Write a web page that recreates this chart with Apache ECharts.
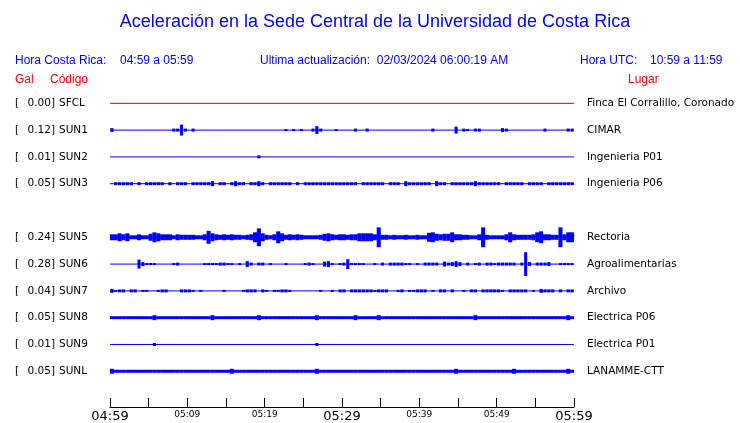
<!DOCTYPE html>
<html><head><meta charset="utf-8">
<script src="https://cdn.jsdelivr.net/npm/echarts/dist/echarts.min.js"></script>
<style>html,body{margin:0;padding:0;background:#fff}#c{width:740px;height:423px}</style>
</head><body><div id="c"></div><script>
// ---- data ----
const codes  = ['SFCL','SUN1','SUN2','SUN3','SUN5','SUN6','SUN7','SUN8','SUN9','SUNL'];
const gal    = ['0.00','0.12','0.01','0.05','0.24','0.28','0.04','0.05','0.01','0.05'];
const places = ['Finca El Corralillo, Coronado','CIMAR','Ingenieria P01','Ingenieria P06','Rectoria','Agroalimentarias','Archivo','Electrica P06','Electrica P01','LANAMME-CTT'];
const rows   = [0,1,2,3,5,6,7,8,9,10];          // row slot of each station (SUN4 absent)
const tickLabels = ['04:59','05:09','05:19','05:29','05:39','05:49','05:59']; // every 10 min
const bigLabels  = ['04:59','05:29','05:59'];
// peak-to-peak amplitude (relative units) every 0.5 minute, 04:59 -> 05:59
const ampSFCL = [0,0,0,0,0,0,0,0,0,0,0,0,0,0,0,0,0,0,0,0, 0,0,0,0,0,0,0,0,0,0,0,0,0,0,0,0,0,0,0,0, 0,0,0,0,0,0,0,0,0,0,0,0,0,0,0,0,0,0,0,0, 0,0,0,0,0,0,0,0,0,0,0,0,0,0,0,0,0,0,0,0, 0,0,0,0,0,0,0,0,0,0,0,0,0,0,0,0,0,0,0,0, 0,0,0,0,0,0,0,0,0,0,0,0,0,0,0,0,0,0,0,0];
const ampSUN1 = [4,0,0,0,0,0,0,0,0,0,0,0,0,0,0,0,3,3,11,3, 0,3,0,0,0,0,0,0,0,0,0,0,0,0,0,0,0,0,0,0, 0,0,0,0,0,2,0,2,0,2,0,0,3,8,3,0,0,0,2,0, 0,0,0,3,0,0,3,0,0,0,0,0,0,0,0,0,0,0,0,0, 0,0,0,3,0,0,0,0,0,7,0,3,2,0,3,3,0,0,0,0, 0,4,3,0,0,0,0,0,0,0,0,0,3,0,0,0,0,0,3,3];
const ampSUN2 = [0,0,0,0,0,0,0,0,0,0,0,0,0,0,0,0,0,0,0,0, 0,0,0,0,0,0,0,0,0,0,0,0,0,0,0,0,0,0,3,0, 0,0,0,0,0,0,0,0,0,0,0,0,0,0,0,0,0,0,0,0, 0,0,0,0,0,0,0,0,0,0,0,0,0,0,0,0,0,0,0,0, 0,0,0,0,0,0,0,0,0,0,0,0,0,0,0,0,0,0,0,0, 0,0,0,0,0,0,0,0,0,0,0,0,0,0,0,0,0,0,0,0];
const ampSUN3 = [0,3,3,3,3,3,0,3,0,3,3,3,3,3,0,3,0,3,3,3, 0,3,3,3,3,3,5,0,3,3,0,3,5,3,3,0,3,3,5,3, 0,3,3,3,3,3,3,0,3,0,3,3,3,3,3,3,3,3,3,3, 3,3,3,3,0,3,3,3,3,3,3,0,3,3,3,0,5,3,3,3, 3,3,3,0,5,3,3,0,3,3,3,3,3,3,5,3,3,3,3,3, 3,0,3,3,3,3,3,0,3,3,3,3,0,3,3,3,3,3,3,3];
const ampSUN5 = [6,6,8,6,8,4,4,6,4,4,7,10,8,6,6,6,4,6,5,5, 5,5,4,4,6,13,8,6,5,6,5,6,5,5,4,5,6,10,18,8, 5,4,6,12,8,5,6,5,6,5,4,4,4,4,5,7,8,6,5,6, 6,5,6,6,8,8,8,8,6,20,5,5,4,5,4,4,5,4,4,5, 4,4,9,10,7,6,7,7,10,6,6,5,5,4,4,6,20,5,4,4, 4,4,6,10,6,5,5,5,5,6,10,12,6,6,5,5,20,6,10,10];
const ampSUN6 = [0,0,0,0,0,0,0,9,4,2,2,2,0,0,0,0,2,3,0,0, 0,0,0,0,2,2,2,2,3,3,2,2,0,2,0,6,3,0,3,3, 0,2,0,0,0,2,0,0,0,0,2,3,2,0,0,5,6,2,0,2, 3,10,2,2,2,2,0,0,2,0,3,0,3,3,3,3,2,2,0,2, 0,3,3,3,3,0,5,3,4,6,4,0,3,0,2,3,0,3,3,2, 3,3,3,3,3,0,3,24,4,0,3,3,3,4,0,0,2,2,2,2];
const ampSUN7 = [4,2,3,3,0,3,3,0,2,2,0,0,2,3,3,0,0,0,3,3, 3,2,0,2,0,0,0,0,0,2,0,0,0,0,2,3,3,3,0,3, 2,0,2,2,3,3,2,0,0,0,0,0,0,0,2,0,0,2,0,3, 3,0,3,3,3,3,3,3,2,3,3,3,0,0,2,3,0,2,2,3, 3,3,0,2,0,3,3,0,3,0,0,2,0,3,3,0,3,3,3,3, 3,2,0,3,3,3,3,3,0,2,0,4,3,3,3,0,3,0,3,3];
const ampSUN8 = [3,3,3,3,3,3,3,3,3,3,3,5,3,3,3,3,3,3,3,3, 3,3,3,3,3,3,5,3,3,3,3,3,3,3,3,3,3,3,5,3, 3,3,3,3,3,3,3,3,3,3,3,3,3,5,3,3,3,3,3,3, 3,3,3,5,3,3,3,3,3,5,3,3,3,3,3,3,3,3,3,3, 3,3,3,3,3,3,3,3,3,3,3,3,3,3,5,3,3,3,3,3, 3,3,3,3,3,3,3,3,3,3,3,3,3,3,3,3,3,3,5,3];
const ampSUN9 = [0,0,0,0,0,0,0,0,0,0,0,3,0,0,0,0,0,0,0,0, 0,0,0,0,0,0,0,0,0,0,0,0,0,0,0,0,0,0,0,0, 0,0,0,0,0,0,0,0,0,0,0,0,0,3,0,0,0,0,0,0, 0,0,0,0,0,0,0,0,0,0,0,0,0,0,0,0,0,0,0,0, 0,0,0,0,0,0,0,0,0,0,0,0,0,0,0,0,0,0,0,0, 0,0,0,0,0,0,0,0,0,0,0,0,0,0,0,0,0,0,0,0];
const ampSUNL = [5,3,3,3,3,3,3,3,3,3,3,3,3,3,3,3,3,3,3,3, 3,3,3,3,3,3,3,3,3,3,3,5,3,3,3,3,3,3,3,3, 3,3,3,3,3,3,3,3,3,3,3,3,3,5,3,3,3,3,3,3, 3,3,3,3,3,3,3,3,3,3,3,3,3,3,3,3,3,3,3,3, 3,3,3,3,3,3,3,3,3,5,3,3,3,3,3,3,3,3,3,3, 3,3,3,3,5,3,3,3,3,3,3,3,3,3,3,3,3,3,5,3];
const amps = [ampSFCL,ampSUN1,ampSUN2,ampSUN3,ampSUN5,ampSUN6,ampSUN7,ampSUN8,ampSUN9,ampSUNL];

// ---- style ----
const STEP = 0.5;            // minutes per amplitude sample
const AMP_UNIT = 1/27;       // row-slot fraction per amplitude unit
const colors = ['#cc0000','#0000ff','#0000ff','#0000ff','#0000ff','#0000ff','#0000ff','#0000ff','#0000ff','#0000ff'];
const fill   = [1,0.8,0.8,0.85,1.05,0.8,0.85,1.05,0.8,1.05];
const HFONT = '"Liberation Sans", Arial, sans-serif';
const LFONT = '"DejaVu Sans", sans-serif';

const chart = echarts.init(document.getElementById('c'), null, {renderer:'canvas'});
const series = [];
codes.forEach((c,k)=>{
  const slot = rows[k];
  series.push({type:'line', data:[[0,slot],[60,slot]], symbol:'none', silent:true,
    lineStyle:{width:1,color:colors[k]}, animation:false, z:2});
  const pts = [];
  amps[k].forEach((a,i)=>{ if(a>0) pts.push([i*STEP+STEP/2, slot, a]); });
  series.push({type:'custom', data:pts, silent:true, animation:false, z:3,
    renderItem:(params,api)=>{
      const p = api.coord([api.value(0), api.value(1)]);
      const w = Math.abs(api.size([STEP,0])[0])*fill[k];
      const h = Math.abs(api.size([0, api.value(2)*AMP_UNIT])[1]);
      return {type:'rect', shape:{x:p[0]-w/2, y:p[1]-h/2, width:w, height:h}, style:{fill:colors[k]}};
    }});
});

chart.setOption({
  animation:false,
  grid:{left:110, right:166, top:76.5, bottom:13.5},
  xAxis:{type:'value', min:0, max:60, interval:5, position:'bottom',
    axisLine:{onZero:false, lineStyle:{color:'#000',width:1}},
    axisTick:{inside:true, length:9, lineStyle:{color:'#000'}},
    splitLine:{show:false},
    axisLabel:{margin:3, formatter:(v)=>{
        if(v%10!==0) return '';
        const lab = tickLabels[v/10];
        return bigLabels.includes(lab) ? '{b|'+lab+'}' : '{s|'+lab+'}';
      },
      rich:{b:{fontSize:13, fontFamily:LFONT, color:'#000'}, s:{fontSize:9, fontFamily:LFONT, color:'#000'}}}},
  yAxis:{type:'value', inverse:true, min:-1, max:11.3333, show:false},
  series:series
});

const g = [];
function txt(text,x,y,font,fill,align){ g.push({type:'text', silent:true, style:{text, x, y, font, fill, textAlign:align||'left', textVerticalAlign:'middle'}}); }
txt('Aceleración en la Sede Central de la Universidad de Costa Rica', 375, 22, '18px '+HFONT, '#0000ff', 'center');
txt('Hora Costa Rica:', 15, 61, '12px '+HFONT, '#0000ff');
txt('04:59 a 05:59', 120, 61, '12px '+HFONT, '#0000ff');
txt('Ultima actualización:  02/03/2024 06:00:19 AM', 260, 61, '12px '+HFONT, '#0000ff');
txt('Hora UTC:', 580, 61, '12px '+HFONT, '#0000ff');
txt('10:59 a 11:59', 650, 61, '12px '+HFONT, '#0000ff');
txt('Gal', 15, 80, '12px '+HFONT, '#ff0000');
txt('Código', 50, 80, '12px '+HFONT, '#ff0000');
txt('Lugar', 628, 80, '12px '+HFONT, '#ff0000');
codes.forEach((c,k)=>{
  const y = chart.convertToPixel({yAxisIndex:0}, rows[k]);
  txt('[', 15, y, '10.5px '+LFONT, '#000');
  txt(gal[k]+']', 55, y, '10.5px '+LFONT, '#000', 'right');
  txt(c, 59, y, '10.5px '+LFONT, '#000');
  txt(places[k], 587, y, '10.5px '+LFONT, '#000');
});
chart.setOption({graphic:g});
</script></body></html>
